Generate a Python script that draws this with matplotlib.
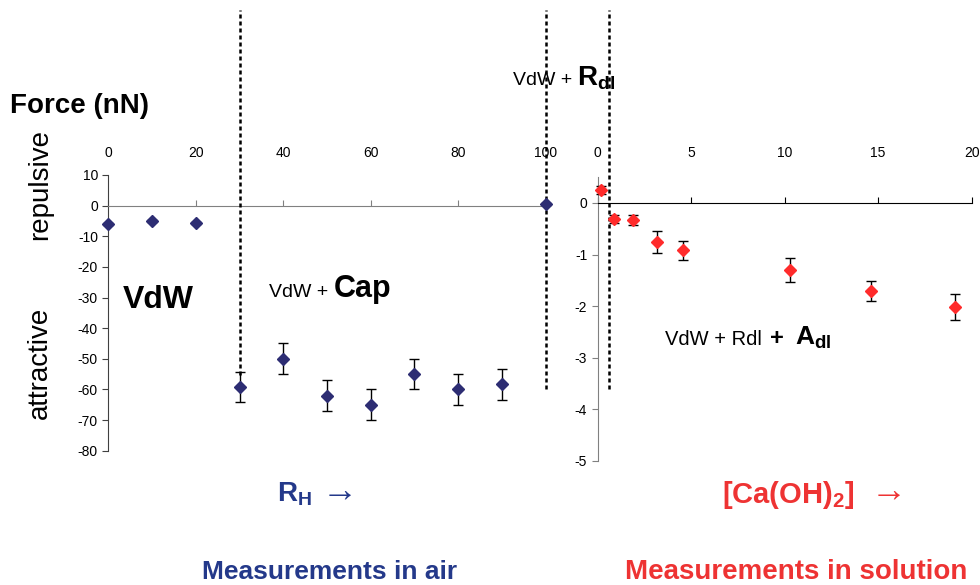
import matplotlib
matplotlib.use('Agg')
import matplotlib.pyplot as plt

plt.rcParams['font.family'] = ['Liberation Sans', 'DejaVu Sans']
plt.rcParams['mathtext.fontset'] = 'custom'
plt.rcParams['mathtext.rm'] = 'Liberation Sans'
plt.rcParams['mathtext.bf'] = 'Liberation Sans:bold'
plt.rcParams['mathtext.it'] = 'Liberation Sans:italic'
plt.rcParams['axes.unicode_minus'] = False

W, H = 980, 585

# ---- data ----
rh = [0, 10, 20, 30, 40, 50, 60, 70, 80, 90, 100]
force_air = [-6.0, -5.0, -5.6, -59.2, -50.0, -62.0, -65.0, -55.0, -60.0, -58.3, 0.5]
err_air = [0.3, 0.3, 0.3, 5, 5, 5, 5, 5, 5, 5, 0.3]

conc = [0.17, 0.88, 1.9, 3.2, 4.55, 10.3, 14.6, 19.1]
force_sol = [0.25, -0.31, -0.33, -0.76, -0.92, -1.30, -1.70, -2.02]
err_sol = [0.08, 0.08, 0.10, 0.21, 0.19, 0.23, 0.19, 0.25]

air_xticks = [0, 20, 40, 60, 80, 100]
air_yticks = [-80, -70, -60, -50, -40, -30, -20, -10, 0, 10]
sol_xticks = [0, 5, 10, 15, 20]
sol_yticks = [-5, -4, -3, -2, -1, 0]
air_dividers = [30, 100]
sol_dividers = [0.6]

navy = '#2D2D73'
navy_txt = '#24398A'
red = '#FF2B2B'
red_txt = '#EE3333'

fig = plt.figure(figsize=(9.8, 5.85), dpi=100)


def box(l, t, r, b):
    return [l / W, 1 - b / H, (r - l) / W, (b - t) / H]


ax1 = fig.add_axes(box(108.3, 175, 108.3 + 100.5 * 4.374, 450.7))
ax1.set_xlim(0, 100.5)
ax1.set_ylim(-80, 10)
ax2 = fig.add_axes(box(597.6, 177.2, 971.7, 461))
ax2.set_xlim(0, 20)
ax2.set_ylim(-5, 0.5)

for ax, zc, sc, xt, yt, pad in [(ax1, '#808080', '#404040', air_xticks, air_yticks, 11),
                                 (ax2, '#000000', '#808080', sol_xticks, sol_yticks, 12.5)]:
    ax.patch.set_visible(False)
    ax.spines['top'].set_visible(False)
    ax.spines['right'].set_visible(False)
    ax.spines['bottom'].set_position(('data', 0))
    ax.spines['bottom'].set_color(zc)
    ax.spines['left'].set_color(sc)
    ax.set_xticks(xt)
    ax.set_yticks(yt)
    ax.tick_params(axis='x', bottom=True, top=False, labelbottom=False, labeltop=True,
                   direction='in', length=4, color=zc, labelcolor='black', labelsize=10, pad=pad)
    ax.tick_params(axis='y', direction='out', length=4, color=sc, labelsize=10, pad=3.5)

eb1 = ax1.errorbar(rh, force_air, yerr=err_air, fmt='D', ms=6, color=navy, ecolor='black',
                   elinewidth=1, capsize=3.8, capthick=1, zorder=3)
eb2 = ax2.errorbar(conc, force_sol, yerr=err_sol, fmt='D', ms=6, color=red, ecolor='black',
                   elinewidth=1, capsize=3.8, capthick=1, zorder=3)
for eb in (eb1, eb2):
    for ch in eb.get_children():
        ch.set_clip_on(False)
    eb[0].set_zorder(5)


def axfrac(ax, ypx):
    bb = ax.get_position()
    return ((1 - ypx / H) - bb.y0) / bb.height


dash = (0, (1.6, 1.2))
for xv, bottom in zip(air_dividers, [375, 389]):
    ax1.axvline(xv, ymin=axfrac(ax1, bottom), ymax=axfrac(ax1, 10), color='black', lw=1.8,
                ls=dash, clip_on=False, zorder=4)
for xv, bottom in zip(sol_dividers, [389]):
    ax2.axvline(xv, ymin=axfrac(ax2, bottom), ymax=axfrac(ax2, 10), color='black', lw=1.8,
                ls=dash, clip_on=False, zorder=4)


def ft(x, y, s, **kw):
    kw.setdefault('va', 'baseline')
    return fig.text(x / W, 1 - y / H, s, **kw)


ft(10, 113, 'Force (nN)', fontsize=20, weight='bold')
ft(40, 185, 'repulsive', fontsize=20, rotation=90, ha='center', va='center')
ft(40, 363, 'attractive', fontsize=20, rotation=90, ha='center', va='center')
ft(123, 308, 'VdW', fontsize=23, weight='bold')
ft(269, 297, 'VdW +', fontsize=14)
ft(334, 297, 'Cap', fontsize=22, weight='bold')
ft(513, 85, 'VdW +', fontsize=14)
ft(577, 85, r'$\mathbf{R_{dl}}$', fontsize=20)
ft(665, 345, 'VdW + Rdl', fontsize=14.5)
ft(770, 345, '+', fontsize=17, weight='bold')
ft(795, 345, r'$\mathbf{A_{dl}}$', fontsize=19)
ft(277, 502, r'$\mathbf{R_H}$', fontsize=20, color=navy_txt)
ft(322, 502, '→', fontsize=26, color=navy_txt)
ft(722, 503, r'$\mathbf{[Ca(OH)_2]}$', fontsize=21, color=red_txt)
ft(871, 502, '→', fontsize=26, color=red_txt)
ft(330, 579, 'Measurements in air', fontsize=19, weight='bold', color=navy_txt, ha='center')
ft(796, 579, 'Measurements in solution', fontsize=20, weight='bold', color=red_txt, ha='center')

fig.savefig('out.png', dpi=100)
